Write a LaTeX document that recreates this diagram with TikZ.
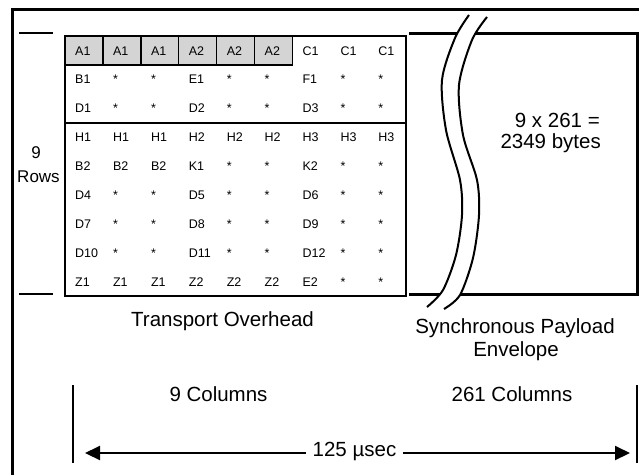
\documentclass[tikz,border=0pt]{standalone}
\usepackage{fontspec}
\setmainfont{Liberation Sans}
\usetikzlibrary{arrows.meta}
\begin{document}
\begin{tikzpicture}[x=1pt,y=-1pt,
  celltext/.style={anchor=base west, inner sep=0pt, font=\fontsize{12.5}{14}\selectfont},
  big/.style={anchor=base, inner sep=0pt, font=\fontsize{20.5}{24}\selectfont},
  mid/.style={anchor=base, inner sep=0pt, font=\fontsize{17}{20}\selectfont},
  shade/.style={fill=black!17, draw=black, line width=1.5pt},
  frameline/.style={line width=3pt, line cap=butt},
  tableline/.style={line width=2.5pt},
  wave/.style={line width=2pt},
  bar/.style={line width=2.5pt},
  arr/.style={line width=2pt, -{Triangle[length=15pt,width=14pt]}}]
\useasboundingbox (0,0) rectangle (639,475);
% outer frame (top and left)
\draw[frameline] (11,9.5) -- (639,9.5);
\draw[frameline] (12,8) -- (12,475);
% row markers
\draw[bar] (19,33) -- (53,33);
\draw[bar] (19,294) -- (53,294);
\node[mid] (nine) at (36,158) {9};
\node[mid] (rows) at (38.5,182) {Rows};
% shaded A1/A2 cells
\foreach \c in {0,...,5} {
  \draw[shade] ({65+\c*37.9},36) rectangle ({65+(\c+1)*37.9},64.9);
}
% table outline and divider
\draw[tableline] (65,36) rectangle (406,296);
\draw[line width=2pt] (65,122.7) -- (406,122.7);
% cell texts
\foreach \row [count=\r] in {
  {A1,A1,A1,A2,A2,A2,C1,C1,C1},
  {B1,*,*,E1,*,*,F1,*,*},
  {D1,*,*,D2,*,*,D3,*,*},
  {H1,H1,H1,H2,H2,H2,H3,H3,H3},
  {B2,B2,B2,K1,*,*,K2,*,*},
  {D4,*,*,D5,*,*,D6,*,*},
  {D7,*,*,D8,*,*,D9,*,*},
  {D10,*,*,D11,*,*,D12,*,*},
  {Z1,Z1,Z1,Z2,Z2,Z2,E2,*,*}} {
  \foreach \t [count=\c] in \row {
    \node[celltext] (cell-\r-\c) at ({65+(\c-1)*37.9+10},{36+(\r-0.5)*28.9+4.6}) {\t};
  }
}
% payload box (open on the left)
\draw[frameline] (409,33) -- (637,33) -- (637,294) -- (409,294);
% break symbol
\fill[white] plot[smooth] coordinates {(469,15) (455,38) (442,80) (446,130) (460,180) (462,215) (456,255) (443,290) (427,307)}
  -- plot[smooth] coordinates {(444,309) (460,295) (473,258) (479,215) (477,180) (463,135) (459,85) (472,40) (487,17)} -- cycle;
\draw[wave] plot[smooth] coordinates {(469,15) (455,38) (442,80) (446,130) (460,180) (462,215) (456,255) (443,290) (427,307)};
\draw[wave] plot[smooth] coordinates {(487,17) (472,40) (459,85) (463,135) (477,180) (479,215) (473,258) (460,295) (444,309)};
\node[big, anchor=base east] (bytes1) at (600,127) {9 x 261 =};
\node[big, anchor=base east] (bytes2) at (601,148) {2349 bytes};
% labels
\node[big] (toh) at (222.5,326) {Transport Overhead};
\node[big] (spe1) at (515,333) {Synchronous Payload};
\node[big] (spe2) at (516,356) {Envelope};
\node[big] (col9) at (218.5,401) {9 Columns};
\node[big] (col261) at (512,401) {261 Columns};
% time span
\draw[bar] (73,385) -- (73,463);
\draw[bar] (637,385) -- (637,463);
\node[big] (usec) at (354.5,456) {125 µsec};
\coordinate (lstart) at (306,453);
\coordinate (ltip) at (85,453);
\coordinate (rstart) at (403,453);
\coordinate (rtip) at (630,453);
\draw[arr] (lstart) -- (ltip);
\draw[arr] (rstart) -- (rtip);
\end{tikzpicture}
\end{document}
